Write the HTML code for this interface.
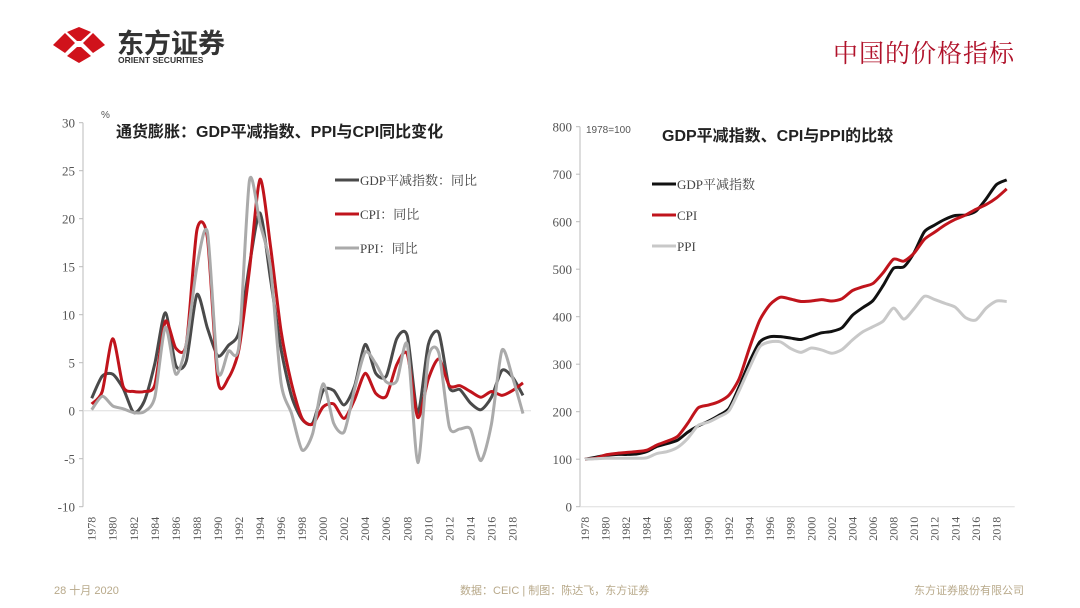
<!DOCTYPE html>
<html><head><meta charset="utf-8"><style>
html,body{margin:0;padding:0;background:#fff;width:1080px;height:608px;overflow:hidden}
svg{display:block}
text{font-family:"Liberation Serif","Noto Serif CJK SC",serif}
.sans{font-family:"Liberation Sans","Noto Sans CJK SC",sans-serif}
</style></head><body>
<svg id="s" width="1080" height="608" viewBox="0 0 1080 608" xmlns="http://www.w3.org/2000/svg">
<g>
<g transform="translate(79,45)">
<path d="M-26,0 L-14,-12 L-4,-2 L-14,8 Z" fill="#d0121b"/>
<path d="M26,0 L14,-12 L4,-2 L14,8 Z" fill="#d0121b"/>
<path d="M0,-18 L12,-13 L2,-4 L-2,-4 L-12,-13 Z" fill="#d0121b"/>
<path d="M0,18 L12,11 L2,2 L-2,2 L-12,11 Z" fill="#d0121b"/>
</g>
<text x="117" y="53" class="sans" font-size="27" font-weight="bold" fill="#333">东方证券</text>
<text x="118" y="63" class="sans" font-size="8.5" font-weight="bold" fill="#333">ORIENT SECURITIES</text>
</g>
<text x="833" y="62" font-size="25" fill="#b0122a" letter-spacing="1">中国的价格指标</text>
<g id="left"></g>
<g id="right"></g>
<text x="54" y="594" class="sans" font-size="11" fill="#b8a98a">28 十月 2020</text>
<text x="460" y="594" class="sans" font-size="11" fill="#b8a98a">数据：CEIC | 制图：陈达飞，东方证券</text>
<text x="914" y="594" class="sans" font-size="11" fill="#b8a98a">东方证券股份有限公司</text>
</svg>
<script>
const years = [];
for (let y = 1978; y <= 2019; y++) years.push(y);
const gdpYoy = [1.3,3.6,3.8,2.3,-0.2,1.0,4.9,10.2,4.7,5.2,12.1,8.6,5.7,6.8,8.2,15.2,20.6,13.7,6.4,1.5,-0.9,-1.3,2.1,2.1,0.6,2.6,6.9,3.9,3.6,7.5,7.8,-0.2,6.9,8.1,2.4,2.2,0.8,0.1,1.4,4.2,3.5,1.6];
const cpiYoy = [0.7,2.0,7.5,2.5,2.0,2.0,2.7,9.3,6.5,7.0,18.8,18.0,3.1,3.4,6.4,14.7,24.1,17.1,8.3,2.8,-0.8,-1.4,0.4,0.7,-0.8,1.2,3.9,1.8,1.5,4.8,5.9,-0.7,3.3,5.4,2.6,2.6,2.0,1.4,2.0,1.6,2.1,2.9];
const ppiYoy = [0.1,1.5,0.5,0.2,-0.2,-0.1,1.4,8.7,3.8,7.0,15.0,18.6,4.1,6.2,6.8,24.0,19.5,14.9,2.9,-0.3,-4.1,-2.4,2.8,-1.3,-2.2,2.3,6.1,4.9,3.0,3.1,6.9,-5.4,5.5,6.0,-1.7,-1.9,-1.9,-5.2,-1.4,6.3,3.5,-0.3];
const gdpIdx = [100,104,108,110,110,111,116,127,133,140,157,170,180,192,207,253,305,347,358,358,355,352,359,366,369,377,403,419,434,466,502,505,535,579,593,605,613,614,622,648,678,688];
const cpiIdx = [100,102,109,112,114,116,119,130,138,148,176,208,214,221,235,270,335,393,426,441,437,432,433,436,433,438,455,463,470,493,521,517,534,563,578,593,605,614,626,636,650,669];
const ppiIdx = [100,101,102,102,102,102,103,112,116,125,144,171,178,189,202,245,293,337,347,347,333,325,334,330,323,331,351,368,379,391,418,395,417,443,436,428,420,398,393,418,433,432];
const leftTicks = [30,25,20,15,10,5,0,-5,-10];
const rightTicks = [800,700,600,500,400,300,200,100,0];
const NS='http://www.w3.org/2000/svg';
function mk(parent,tag,attrs,txt){const e=document.createElementNS(NS,tag);for(const k in attrs)e.setAttribute(k,attrs[k]);if(txt!=null)e.textContent=txt;parent.appendChild(e);return e;}
function smooth(pts){let d='M'+pts[0][0]+','+pts[0][1];for(let i=0;i<pts.length-1;i++){const p0=pts[i-1]||pts[i],p1=pts[i],p2=pts[i+1],p3=pts[i+2]||p2;const t=8;d+=' C'+(p1[0]+(p2[0]-p0[0])/t)+','+(p1[1]+(p2[1]-p0[1])/t)+' '+(p2[0]-(p3[0]-p1[0])/t)+','+(p2[1]-(p3[1]-p1[1])/t)+' '+p2[0]+','+p2[1];}return d;}
function chart(g,cfg){
  const xs=i=>cfg.x0+(cfg.x1-cfg.x0)*i/(years.length-1);
  const ys=v=>cfg.yTop+(cfg.max-v)/(cfg.max-cfg.min)*(cfg.yBot-cfg.yTop);
  const ax=mk(g,'line',{x1:cfg.axX,y1:cfg.yTop,x2:cfg.axX,y2:cfg.yBot,stroke:'#bbb'});
  
  
  cfg.ticks.forEach(t=>{
    const tl=mk(g,'text',{x:cfg.axX-8,y:ys(t)+5,'text-anchor':'end','font-size':13,fill:'#555'},String(t));
    
    
    mk(g,'line',{x1:cfg.axX-4,y1:ys(t),x2:cfg.axX,y2:ys(t),stroke:'#bbb'});
  });
  const xa=mk(g,'line',{x1:cfg.axX,y1:ys(cfg.base),x2:cfg.x1+8,y2:ys(cfg.base),stroke:'#ddd'});
  
  
  years.forEach((yr,i)=>{
    if(i%2==0){
      const tx=xs(i)+4,ty=cfg.yBot+10;
      const l=mk(g,'text',{x:tx,y:ty,'text-anchor':'end','font-size':12,fill:'#555',transform:'rotate(-90 '+tx+' '+ty+')'},String(yr));
      
      
    }
  });
  cfg.series.forEach(s=>{
    const p=mk(g,'path',{d:smooth(s.data.map((v,i)=>[xs(i),ys(v)])),fill:'none',stroke:s.color,'stroke-width':3,'stroke-linejoin':'round'});
    
    
  });
  cfg.series.forEach((s,k)=>{
    const y=cfg.legY+k*cfg.legGap;
    const lg=mk(g,'g',{});
    
    
    mk(lg,'line',{x1:cfg.legX,y1:y,x2:cfg.legX+24,y2:y,stroke:s.color,'stroke-width':3});
    mk(lg,'text',{x:cfg.legX+25,y:y+5,'font-size':13,fill:'#444'},s.label);
  });
  const u=mk(g,'text',{x:cfg.unitX,y:cfg.unitY,'font-size':cfg.unitFs,fill:'#555',class:'sans'},cfg.unit);
  
  
  const t=mk(g,'text',{x:cfg.titleX,y:cfg.titleY,'font-size':16,'font-weight':'bold',fill:'#222',class:'sans'},cfg.title);
  
  
}
chart(document.getElementById('left'),{x0:91.7,x1:523,axX:83,yTop:122.7,yBot:506.7,max:30,min:-10,base:0,ticks:leftTicks,
  series:[{name:'gdp-deflator-yoy-line',data:gdpYoy,color:'#4a4a4a',label:'GDP平减指数：同比'},{name:'cpi-yoy-line',data:cpiYoy,color:'#c0141c',label:'CPI：同比'},{name:'ppi-yoy-line',data:ppiYoy,color:'#aaaaaa',label:'PPI：同比'}],
  legX:335,legY:180,legGap:34,unit:'%',unitX:101,unitY:118,unitFs:10,title:'通货膨胀：GDP平减指数、PPI与CPI同比变化',titleX:116,titleY:137});
chart(document.getElementById('right'),{x0:585,x1:1006.7,axX:580,yTop:126.7,yBot:506.7,max:800,min:0,base:0,ticks:rightTicks,
  series:[{name:'gdp-deflator-index-line',data:gdpIdx,color:'#111',label:'GDP平减指数'},{name:'cpi-index-line',data:cpiIdx,color:'#c0141c',label:'CPI'},{name:'ppi-index-line',data:ppiIdx,color:'#c8c8c8',label:'PPI'}],
  legX:652,legY:184,legGap:31,unit:'1978=100',unitX:586,unitY:133,unitFs:10,title:'GDP平减指数、CPI与PPI的比较',titleX:662,titleY:141});
</script>
</body></html>
